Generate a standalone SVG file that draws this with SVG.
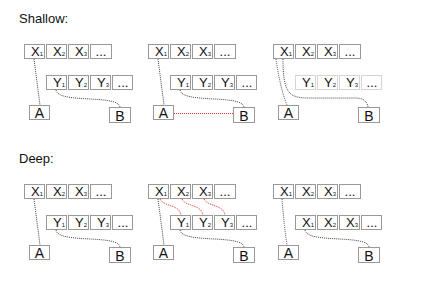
<svg xmlns="http://www.w3.org/2000/svg" width="422" height="284" viewBox="0 0 422 284">
<style>
.b{fill:none;stroke:#333;stroke-width:1;stroke-dasharray:1 1}
.f{stroke:#aaa}
.t{font-family:"Liberation Sans",Arial,sans-serif;font-size:13px;fill:#111}
.m{text-anchor:middle}
.l{font-size:14px}
.s{font-size:6px}
.ti{font-family:"Liberation Sans",Arial,sans-serif;font-size:13px;fill:#111}
.c{fill:none;stroke:#444;stroke-width:1;stroke-dasharray:1 1}
.r{stroke:#e03030}
</style>
<rect width="422" height="284" fill="#fff"/>
<text class="ti" x="19" y="22.5">Shallow:</text>
<text class="ti" x="19" y="162.5">Deep:</text>

<g id="connectors">
<path class="c" d="M34,59 L40,105"/>
<path class="c" d="M56,90 C58,104 118,94 120,107"/>
<path class="c" d="M158,59 L164,105"/>
<path class="c" d="M180,90 C182,104 242,94 244,107"/>
<path class="c r" d="M174,113.5 L233,113.5"/>
<path class="c" d="M276,59 Q280,88 287,105"/>
<path class="c" d="M283,59 C283,95 290,98 310,98 L355,98 C363,98 367,101 368,107"/>
<path class="c" d="M34,199 L40,245"/>
<path class="c" d="M56,230 C58,244 118,234 120,247"/>
<path class="c" d="M158,199 L164,245"/>
<path class="c" d="M180,230 C182,244 242,234 244,247"/>
<path class="c r" d="M160,199 C164,207 179,204 181,215"/>
<path class="c r" d="M182,199 C186,207 201,204 203,215"/>
<path class="c r" d="M204,199 C208,207 223,204 225,215"/>
<path class="c" d="M282,199 Q284,225 287,245"/>
<path class="c" d="M305,230 C307,244 367,234 369,247"/>
</g>

<g id="shallow-1">
<g id="s1-x1"><rect class="b" x="24.5" y="44.5" width="20" height="14"/><text class="t" x="31" y="56">X<tspan class="s">1</tspan></text></g>
<g id="s1-x2"><rect class="b" x="46.5" y="44.5" width="20" height="14"/><text class="t" x="53" y="56">X<tspan class="s">2</tspan></text></g>
<g id="s1-x3"><rect class="b" x="68.5" y="44.5" width="20" height="14"/><text class="t" x="75" y="56">X<tspan class="s">3</tspan></text></g>
<g id="s1-xn"><rect class="b" x="90.5" y="44.5" width="21" height="14"/><text class="t m" x="101" y="56">...</text></g>
<g id="s1-y1"><rect class="b" x="46.5" y="75.5" width="20" height="14"/><text class="t" x="53" y="87">Y<tspan class="s">1</tspan></text></g>
<g id="s1-y2"><rect class="b" x="68.5" y="75.5" width="20" height="14"/><text class="t" x="75" y="87">Y<tspan class="s">2</tspan></text></g>
<g id="s1-y3"><rect class="b" x="90.5" y="75.5" width="20" height="14"/><text class="t" x="97" y="87">Y<tspan class="s">3</tspan></text></g>
<g id="s1-yn"><rect class="b" x="112.5" y="75.5" width="20" height="14"/><text class="t m" x="123" y="87">...</text></g>
<g id="s1-a"><rect class="b" x="29.5" y="105.5" width="20" height="14"/><text class="t m l" x="39.5" y="117.5">A</text></g>
<g id="s1-b"><rect class="b" x="109.5" y="107.5" width="21" height="15"/><text class="t m l" x="120" y="120.5">B</text></g>
</g>

<g id="shallow-2" transform="translate(124,0)">
<g id="s2-x1"><rect class="b" x="24.5" y="44.5" width="20" height="14"/><text class="t" x="31" y="56">X<tspan class="s">1</tspan></text></g>
<g id="s2-x2"><rect class="b" x="46.5" y="44.5" width="20" height="14"/><text class="t" x="53" y="56">X<tspan class="s">2</tspan></text></g>
<g id="s2-x3"><rect class="b" x="68.5" y="44.5" width="20" height="14"/><text class="t" x="75" y="56">X<tspan class="s">3</tspan></text></g>
<g id="s2-xn"><rect class="b" x="90.5" y="44.5" width="21" height="14"/><text class="t m" x="101" y="56">...</text></g>
<g id="s2-y1"><rect class="b" x="46.5" y="75.5" width="20" height="14"/><text class="t" x="53" y="87">Y<tspan class="s">1</tspan></text></g>
<g id="s2-y2"><rect class="b" x="68.5" y="75.5" width="20" height="14"/><text class="t" x="75" y="87">Y<tspan class="s">2</tspan></text></g>
<g id="s2-y3"><rect class="b" x="90.5" y="75.5" width="20" height="14"/><text class="t" x="97" y="87">Y<tspan class="s">3</tspan></text></g>
<g id="s2-yn"><rect class="b" x="112.5" y="75.5" width="20" height="14"/><text class="t m" x="123" y="87">...</text></g>
<g id="s2-a"><rect class="b" x="29.5" y="105.5" width="20" height="14"/><text class="t m l" x="39.5" y="117.5">A</text></g>
<g id="s2-b"><rect class="b" x="109.5" y="107.5" width="21" height="15"/><text class="t m l" x="120" y="120.5">B</text></g>
</g>

<g id="shallow-3" transform="translate(249,0)">
<g id="s3-x1"><rect class="b" x="24.5" y="44.5" width="20" height="14"/><text class="t" x="31" y="56">X<tspan class="s">1</tspan></text></g>
<g id="s3-x2"><rect class="b" x="46.5" y="44.5" width="20" height="14"/><text class="t" x="53" y="56">X<tspan class="s">2</tspan></text></g>
<g id="s3-x3"><rect class="b" x="68.5" y="44.5" width="20" height="14"/><text class="t" x="75" y="56">X<tspan class="s">3</tspan></text></g>
<g id="s3-xn"><rect class="b" x="90.5" y="44.5" width="21" height="14"/><text class="t m" x="101" y="56">...</text></g>
<g id="s3-y1"><rect class="b f" x="46.5" y="75.5" width="20" height="14"/><text class="t" x="53" y="87">Y<tspan class="s">1</tspan></text></g>
<g id="s3-y2"><rect class="b f" x="68.5" y="75.5" width="20" height="14"/><text class="t" x="75" y="87">Y<tspan class="s">2</tspan></text></g>
<g id="s3-y3"><rect class="b f" x="90.5" y="75.5" width="20" height="14"/><text class="t" x="97" y="87">Y<tspan class="s">3</tspan></text></g>
<g id="s3-yn"><rect class="b f" x="112.5" y="75.5" width="20" height="14"/><text class="t m" x="123" y="87">...</text></g>
<g id="s3-a"><rect class="b" x="29.5" y="105.5" width="20" height="14"/><text class="t m l" x="39.5" y="117.5">A</text></g>
<g id="s3-b"><rect class="b" x="109.5" y="107.5" width="21" height="15"/><text class="t m l" x="120" y="120.5">B</text></g>
</g>

<g id="deep-1" transform="translate(0,140)">
<g id="d1-x1"><rect class="b" x="24.5" y="44.5" width="20" height="14"/><text class="t" x="31" y="56">X<tspan class="s">1</tspan></text></g>
<g id="d1-x2"><rect class="b" x="46.5" y="44.5" width="20" height="14"/><text class="t" x="53" y="56">X<tspan class="s">2</tspan></text></g>
<g id="d1-x3"><rect class="b" x="68.5" y="44.5" width="20" height="14"/><text class="t" x="75" y="56">X<tspan class="s">3</tspan></text></g>
<g id="d1-xn"><rect class="b" x="90.5" y="44.5" width="21" height="14"/><text class="t m" x="101" y="56">...</text></g>
<g id="d1-y1"><rect class="b" x="46.5" y="75.5" width="20" height="14"/><text class="t" x="53" y="87">Y<tspan class="s">1</tspan></text></g>
<g id="d1-y2"><rect class="b" x="68.5" y="75.5" width="20" height="14"/><text class="t" x="75" y="87">Y<tspan class="s">2</tspan></text></g>
<g id="d1-y3"><rect class="b" x="90.5" y="75.5" width="20" height="14"/><text class="t" x="97" y="87">Y<tspan class="s">3</tspan></text></g>
<g id="d1-yn"><rect class="b" x="112.5" y="75.5" width="20" height="14"/><text class="t m" x="123" y="87">...</text></g>
<g id="d1-a"><rect class="b" x="29.5" y="105.5" width="20" height="14"/><text class="t m l" x="39.5" y="117.5">A</text></g>
<g id="d1-b"><rect class="b" x="109.5" y="107.5" width="21" height="15"/><text class="t m l" x="120" y="120.5">B</text></g>
</g>

<g id="deep-2" transform="translate(124,140)">
<g id="d2-x1"><rect class="b" x="24.5" y="44.5" width="20" height="14"/><text class="t" x="31" y="56">X<tspan class="s">1</tspan></text></g>
<g id="d2-x2"><rect class="b" x="46.5" y="44.5" width="20" height="14"/><text class="t" x="53" y="56">X<tspan class="s">2</tspan></text></g>
<g id="d2-x3"><rect class="b" x="68.5" y="44.5" width="20" height="14"/><text class="t" x="75" y="56">X<tspan class="s">3</tspan></text></g>
<g id="d2-xn"><rect class="b" x="90.5" y="44.5" width="21" height="14"/><text class="t m" x="101" y="56">...</text></g>
<g id="d2-y1"><rect class="b" x="46.5" y="75.5" width="20" height="14"/><text class="t" x="53" y="87">Y<tspan class="s">1</tspan></text></g>
<g id="d2-y2"><rect class="b" x="68.5" y="75.5" width="20" height="14"/><text class="t" x="75" y="87">Y<tspan class="s">2</tspan></text></g>
<g id="d2-y3"><rect class="b" x="90.5" y="75.5" width="20" height="14"/><text class="t" x="97" y="87">Y<tspan class="s">3</tspan></text></g>
<g id="d2-yn"><rect class="b" x="112.5" y="75.5" width="20" height="14"/><text class="t m" x="123" y="87">...</text></g>
<g id="d2-a"><rect class="b" x="29.5" y="105.5" width="20" height="14"/><text class="t m l" x="39.5" y="117.5">A</text></g>
<g id="d2-b"><rect class="b" x="109.5" y="107.5" width="21" height="15"/><text class="t m l" x="120" y="120.5">B</text></g>
</g>

<g id="deep-3" transform="translate(249,140)">
<g id="d3-x1"><rect class="b" x="24.5" y="44.5" width="20" height="14"/><text class="t" x="31" y="56">X<tspan class="s">1</tspan></text></g>
<g id="d3-x2"><rect class="b" x="46.5" y="44.5" width="20" height="14"/><text class="t" x="53" y="56">X<tspan class="s">2</tspan></text></g>
<g id="d3-x3"><rect class="b" x="68.5" y="44.5" width="20" height="14"/><text class="t" x="75" y="56">X<tspan class="s">3</tspan></text></g>
<g id="d3-xn"><rect class="b" x="90.5" y="44.5" width="21" height="14"/><text class="t m" x="101" y="56">...</text></g>
<g id="d3-c1"><rect class="b" x="46.5" y="75.5" width="20" height="14"/><text class="t" x="53" y="87">X<tspan class="s">1</tspan></text></g>
<g id="d3-c2"><rect class="b" x="68.5" y="75.5" width="20" height="14"/><text class="t" x="75" y="87">X<tspan class="s">2</tspan></text></g>
<g id="d3-c3"><rect class="b" x="90.5" y="75.5" width="20" height="14"/><text class="t" x="97" y="87">X<tspan class="s">3</tspan></text></g>
<g id="d3-cn"><rect class="b" x="112.5" y="75.5" width="20" height="14"/><text class="t m" x="123" y="87">...</text></g>
<g id="d3-a"><rect class="b" x="29.5" y="105.5" width="20" height="14"/><text class="t m l" x="39.5" y="117.5">A</text></g>
<g id="d3-b"><rect class="b" x="109.5" y="107.5" width="21" height="15"/><text class="t m l" x="120" y="120.5">B</text></g>
</g>
</svg>
